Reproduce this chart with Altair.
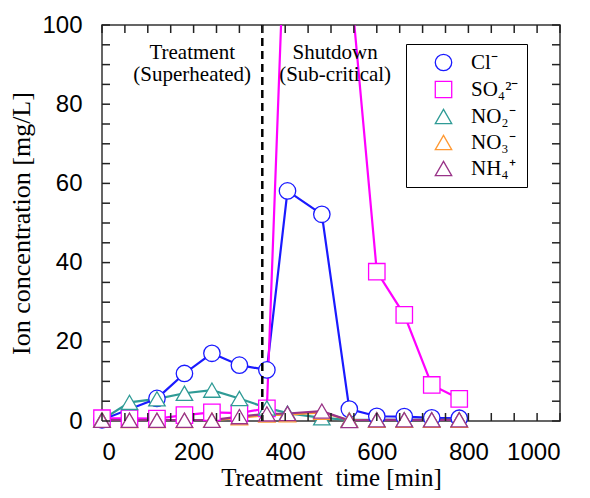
import altair as alt
import pandas as pd

# ---------------- data ----------------
times = [0, 60, 120, 180, 240, 300, 360, 405, 480, 540, 600, 660, 720, 780]
ions = ["Cl\u207b", "SO\u2084\u00b2\u207b", "NO\u2082\u207b", "NO\u2083\u207b", "NH\u2084\u207a"]
cl = [0.3, None, 5.7, 12.0, 17.1, 14.1, 12.9, 58.1, 52.2, 3.0, 1.2, 1.1, 0.8, 0.7]
so4 = [0.7, 0.7, 0.6, 1.5, 2.2, 2.0, 3.2, 144, 180, 114, 37.7, 26.8, 9.1, 5.6]
no2 = [0.3, 4.7, 5.6, 7.0, 7.8, 5.7, 3.3, 2.0, 0.8, 0.3, 0.3, 0.3, 0.3, 0.3]
no3 = [0.2, 0.1, 0.1, 0.1, 0.2, 0.8, 1.5, 1.6, 2.2, 0.2, 0.2, 0.2, 0.2, 0.2]
nh4 = [0.2, 0.2, 0.2, 0.2, 0.2, 1.1, 1.8, 1.9, 2.5, 0.1, 0.3, 0.3, 0.3, 0.3]
series = [cl, so4, no2, no3, nh4]

colors = ["#1a1aff", "#ff00ff", "#2f9b96", "#ff9933", "#993388"]
shapes = ["circle", "square", "triangle-up", "triangle-up", "triangle-up"]

shutdown_start = 350
x_label_values = [0, 200, 400, 600, 800, 1000]
y_label_values = [0, 20, 40, 60, 80, 100]
x_tick_values = list(range(0, 1001, 50))
y_tick_values = list(range(0, 101, 5))

ann_text = ["Treatment", "(Superheated)", "Shutdown", "(Sub-critical)"]
ann_t = [197, 197, 509, 509]
ann_v = [92.9, 87.4, 92.9, 87.4]

# ---------------- tables ----------------
rows = []
for ion, vals in zip(ions, series):
    for t, v in zip(times, vals):
        if v is not None:
            rows.append({"t": t, "v": v, "ion": ion})
df = pd.DataFrame(rows)

W, H = 458, 396
xs = alt.Scale(domain=[0, 1000], nice=False)
ys = alt.Scale(domain=[0, 100], nice=False)

x_enc = alt.X("t:Q", scale=xs, axis=alt.Axis(
    values=x_label_values, format="d", title="Treatment \u00a0time [min]", tickSize=0,
    domain=False, grid=False, labelPadding=19, titleY=64, titleBaseline="alphabetic",
    titleFontSize=25))
y_enc = alt.Y("v:Q", scale=ys, axis=alt.Axis(
    values=y_label_values, format="d", title="Ion concentration [mg/L]", tickSize=0,
    domain=False, grid=False, labelPadding=20, titlePadding=7, titleFontSize=26))

# one line layer per ion, each with its own constant colour (no colour scale)
line_layers = [
    alt.Chart(df).transform_filter(alt.datum.ion == ion)
    .mark_line(clip=True, strokeWidth=2.2, color=c)
    .encode(x=x_enc, y=y_enc)
    for ion, c in zip(ions, colors)
]

leg = dict(orient="none", legendX=304, legendY=19, title=None,
           labelExpr="datum.label + '\u00a0\u00a0\u00a0\u00a0\u00a0'")
points = alt.Chart(df).mark_point(filled=False, fill="white", fillOpacity=1, size=270,
                                  strokeWidth=1.3).encode(
    x="t:Q", y="v:Q",
    stroke=alt.Stroke("ion:N", scale=alt.Scale(domain=ions, range=colors),
                      legend=alt.Legend(**leg)),
    shape=alt.Shape("ion:N", scale=alt.Scale(domain=ions, range=shapes),
                    legend=alt.Legend(**leg)),
)

divider = alt.Chart(pd.DataFrame({"t": [shutdown_start]})).mark_rule(
    color="black", strokeWidth=2.5, strokeDash=[8, 5]).encode(x="t:Q")

ann = alt.Chart(pd.DataFrame({"t": ann_t, "v": ann_v, "s": ann_text})).mark_text(
    font="Liberation Serif", fontSize=21, color="black", baseline="middle").encode(
    x="t:Q", y="v:Q", text="s:N")

xt = pd.DataFrame({"t": x_tick_values})
yt = pd.DataFrame({"v": y_tick_values})
tick_style = dict(color="#222222", strokeWidth=1.5)
tb = alt.Chart(xt).mark_rule(**tick_style).encode(x="t:Q", y=alt.value(H), y2=alt.value(H - 8))
tt = alt.Chart(xt).mark_rule(**tick_style).encode(x="t:Q", y=alt.value(0), y2=alt.value(8))
tl = alt.Chart(yt).mark_rule(**tick_style).encode(y="v:Q", x=alt.value(0), x2=alt.value(8))
tr = alt.Chart(yt).mark_rule(**tick_style).encode(y="v:Q", x=alt.value(W), x2=alt.value(W - 8))

chart = alt.layer(*line_layers, points, divider, ann, tb, tt, tl, tr).properties(
    width=W, height=H,
    autosize=alt.AutoSizeParams(type="none"),
    padding={"left": 94, "top": 17, "right": 22, "bottom": 69},
).configure_view(
    stroke="#333333", strokeWidth=1.5
).configure_axis(
    labelFont="Liberation Sans", labelFontSize=24, labelColor="black",
    titleFont="Liberation Serif", titleFontWeight="normal", titleColor="black",
).configure_legend(
    strokeColor="black", fillColor="white", padding=8,
    labelFont="Liberation Serif", labelFontSize=21, labelColor="black",
    symbolSize=270, symbolStrokeWidth=1.3, symbolOffset=19, labelOffset=17,
    rowPadding=4, labelLimit=250, symbolFillColor="white",
)

chart.save("out.html", embed_options={"renderer": "svg", "actions": False})
